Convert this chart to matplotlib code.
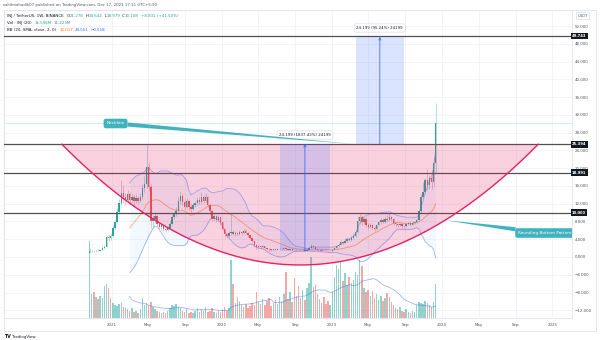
import numpy as np
import pandas as pd
import matplotlib
matplotlib.use("Agg")
import matplotlib.pyplot as plt
import matplotlib.dates as mdates
import matplotlib.transforms as mtransforms
from matplotlib.patches import Rectangle

plt.rcParams['font.family'] = ['DejaVu Sans']

# ---- weekly INJ/USDT candles (Binance), weeks starting on Mondays ----
week_start = "2020-10-19"
first_open = 0.95
close = [
    1.25, 1.35, 1.30, 1.45, 1.40, 1.60, 2.10, 2.30, 4.60, 4.20,
    4.80, 6.60, 7.90, 10.20, 12.20, 14.50, 13.60, 12.90, 14.10, 12.80,
    13.40, 12.60, 13.30, 12.70, 13.60, 15.60, 16.50, 20.30, 15.80, 8.00,
    8.60, 9.30, 7.40, 6.80, 7.10, 6.40, 6.10, 6.60, 7.50, 8.90,
    9.60, 10.40, 12.60, 13.80, 12.40, 11.30, 12.50, 11.20, 10.80, 11.60,
    12.10, 12.90, 12.30, 13.40, 12.60, 13.50, 11.70, 10.30, 8.60, 9.20,
    8.40, 8.90, 7.80, 6.40, 5.10, 4.70, 5.30, 5.60, 5.20, 5.40,
    5.10, 5.60, 5.30, 5.80, 5.50, 4.90, 4.30, 3.60, 2.70, 2.30,
    2.50, 2.20, 2.40, 2.00, 1.85, 1.70, 1.55, 1.70, 1.65, 1.80,
    1.90, 1.75, 1.95, 1.70, 1.60, 1.70, 1.55, 1.50, 1.60, 1.55,
    1.50, 1.55, 1.45, 1.60, 2.10, 2.50, 2.20, 1.70, 1.55, 1.60,
    1.45, 1.40, 1.30, 1.25, 1.30, 1.60, 2.00, 2.40, 2.80, 3.40,
    3.20, 3.70, 4.00, 3.80, 4.30, 4.70, 5.60, 8.20, 9.00, 7.80,
    8.60, 7.20, 6.80, 7.30, 6.60, 6.40, 7.20, 7.80, 8.40, 7.90,
    8.60, 8.30, 9.00, 8.50, 7.60, 7.40, 7.10, 7.40, 7.00, 6.90,
    7.40, 7.60, 7.30, 7.70, 7.90, 8.40, 10.40, 13.60, 14.70, 17.30,
    16.20, 17.90, 16.80, 21.277, 30.108,
]
high = [
    2.00, 1.55, 1.50, 1.60, 1.70, 1.75, 2.40, 2.70, 5.00, 5.20,
    5.30, 7.20, 8.40, 11.00, 13.00, 17.30, 16.20, 14.50, 15.00, 14.60,
    14.20, 13.90, 14.10, 13.80, 14.40, 16.50, 18.20, 25.20, 21.50, 16.50,
    9.30, 9.80, 9.40, 7.90, 7.70, 7.30, 6.80, 7.00, 8.00, 9.40,
    10.20, 11.20, 13.50, 14.70, 14.20, 13.00, 13.30, 12.80, 11.90, 12.10,
    12.70, 13.50, 13.60, 14.60, 13.90, 14.50, 13.80, 12.00, 10.60, 9.90,
    9.40, 9.50, 9.10, 7.90, 6.60, 5.40, 5.80, 9.90, 6.10, 5.90,
    5.70, 6.00, 5.90, 6.20, 6.40, 5.70, 5.00, 4.40, 3.70, 2.90,
    2.80, 2.60, 2.60, 2.50, 2.10, 2.00, 1.80, 1.85, 1.90, 2.00,
    2.20, 2.00, 2.25, 2.00, 1.80, 1.85, 1.80, 1.65, 1.75, 1.70,
    1.65, 1.70, 1.60, 1.75, 2.30, 2.90, 2.70, 2.30, 1.80, 1.75,
    1.70, 1.55, 1.45, 1.40, 1.40, 1.70, 2.20, 2.60, 3.10, 3.80,
    3.70, 4.20, 4.50, 4.30, 4.70, 5.30, 6.00, 9.20, 9.60, 9.40,
    9.10, 8.90, 7.60, 7.70, 7.50, 6.90, 7.50, 8.20, 8.80, 8.70,
    9.00, 9.50, 9.80, 9.30, 8.70, 7.90, 7.60, 7.70, 7.60, 7.30,
    7.60, 7.90, 7.80, 8.00, 8.20, 8.80, 10.90, 14.30, 16.80, 17.80,
    19.90, 18.40, 18.90, 22.50, 34.642,
]
low = [
    0.83, 1.10, 1.15, 1.20, 1.30, 1.35, 1.55, 1.90, 2.20, 3.70,
    3.90, 4.60, 6.20, 7.60, 9.60, 11.80, 12.20, 11.60, 12.20, 12.00,
    12.30, 11.80, 12.10, 11.90, 12.40, 13.00, 14.60, 15.50, 14.80, 6.50,
    6.80, 7.70, 7.00, 6.20, 6.30, 5.90, 5.60, 5.80, 6.40, 7.30,
    8.50, 9.20, 10.10, 12.00, 11.60, 10.80, 11.00, 10.60, 10.20, 10.50,
    11.20, 11.80, 11.90, 12.10, 12.10, 12.40, 11.20, 9.60, 8.00, 8.20,
    7.90, 8.10, 7.20, 6.00, 4.60, 4.30, 4.50, 5.00, 4.90, 4.80,
    4.70, 4.90, 5.00, 5.10, 5.20, 4.60, 4.00, 3.30, 2.20, 1.90,
    2.10, 1.90, 2.00, 1.80, 1.50, 1.40, 1.35, 1.40, 1.50, 1.55,
    1.70, 1.60, 1.70, 1.60, 1.50, 1.55, 1.45, 1.40, 1.45, 1.45,
    1.40, 1.45, 1.35, 1.40, 1.55, 2.00, 2.00, 1.60, 1.30, 1.40,
    1.35, 1.30, 1.20, 1.10, 1.15, 1.25, 1.55, 1.90, 2.30, 2.70,
    2.90, 3.10, 3.40, 3.50, 3.70, 4.10, 4.50, 5.50, 7.40, 7.30,
    7.50, 6.80, 6.30, 6.60, 6.20, 5.90, 6.30, 6.90, 7.50, 7.60,
    7.60, 7.90, 8.10, 8.10, 7.30, 7.00, 6.70, 6.90, 6.60, 6.50,
    6.80, 7.10, 7.00, 7.20, 7.40, 7.60, 8.30, 9.80, 13.20, 14.20,
    15.00, 15.30, 15.40, 16.10, 18.979,
]
# weekly volume, millions of INJ
volume_m = [
    72, 22, 24, 20, 18, 21, 19, 30, 32, 28,
    19, 14, 12, 11, 13, 14, 10, 9, 8, 7,
    9, 6, 7, 5, 8, 19, 12, 14, 11, 15,
    10, 8, 7, 6, 5, 6, 5, 7, 9, 12,
    11, 13, 10, 9, 7, 6, 8, 5, 6, 5,
    7, 9, 6, 8, 7, 10, 6, 7, 9, 6,
    5, 7, 6, 8, 10, 7, 9, 54, 32, 14,
    20, 16, 12, 10, 13, 9, 11, 14, 12, 24,
    15, 13, 18, 12, 16, 19, 11, 14, 17, 13,
    20, 16, 22, 43, 18, 24, 15, 37, 21, 30,
    19, 26, 17, 28, 33, 57, 29, 31, 22, 18,
    14, 20, 13, 16, 12, 24, 38, 50, 46, 52,
    35, 42, 31, 38, 33, 36, 43, 40, 54, 49,
    28, 24, 26, 21, 25, 19, 22, 17, 21, 16,
    19, 23, 20, 15, 12, 9, 8, 10, 7, 6,
    8, 6, 5, 7, 6, 12, 15, 14, 13, 16,
    14, 12, 10, 15, 31.596,
]

# ---- drawings ----
levels = [49.743, 25.394, 18.991, 10.000]
neckline = 25.394
arc_left = "2020-07-19"
arc_right = "2024-11-15"
arc_bottom = -1.8
# price ranges: start, end, from, to
ranges = [("2022-07-12", "2022-12-25", 1.317, 25.516),
          ("2023-03-21", "2023-08-27", 25.409, 49.608)]
neck_label_at = ("2021-01-13", 30.07)
neck_anchor = "2023-03-20"
round_label_at = ("2024-09-09", 5.4)
round_anchor = "2024-01-11"

price_ticks = list(range(-12, 53, 4))
time_ticks = ["2021-01-01", "2021-05-01", "2021-09-01", "2022-01-01", "2022-05-01",
              "2022-09-01", "2023-01-01", "2023-05-01", "2023-09-01", "2024-01-01",
              "2024-05-01", "2024-09-01", "2025-01-01"]
time_labels = ["2021", "May", "Sep", "2022", "May", "Sep", "2023", "May", "Sep",
               "2024", "May", "Sep", "2025"]

UP, DOWN = '#26a69a', '#ef5350'
TXT = '#131722'
AX_TXT = '#50535e'
CALLOUT = '#40b3be'
BLUE = '#2962ff'
ORANGE = '#ff6d00'
GRID = '#f0f3fa'

W, H = 600, 340
fig = plt.figure(figsize=(W / 100, H / 100), dpi=100)
fig.patch.set_facecolor('white')


def fx(p):
    return p / W


def fy(p):
    return 1 - p / H


rect = [fx(4), fy(318), (572 - 4) / W, (318 - 10) / H]
axv = fig.add_axes(rect, zorder=1)
ax = fig.add_axes(rect, zorder=2)
ax.patch.set_visible(False)

d2n = lambda s: mdates.date2num(pd.Timestamp(s))
dates = pd.date_range(week_start, periods=len(close), freq='7D')
x = mdates.date2num(dates)
c = np.array(close)
o = np.array([first_open] + close[:-1])
hi = np.array(high)
lo = np.array(low)
vol = np.array(volume_m)
col = np.where(c >= o, UP, DOWN)

xlim = (d2n("2020-01-09"), d2n("2025-03-07"))
ax.set_xlim(*xlim)
axv.set_xlim(*xlim)
ax.set_ylim(-13.74, 55.63)
axv.set_ylim(0, 288)
axv.axis('off')

# grid (drawn on the lower axes so it stays behind everything)
gtrans = mtransforms.blended_transform_factory(axv.transAxes, ax.transData)
for p in price_ticks:
    axv.plot([0, 1], [p, p], transform=gtrans, color=GRID, lw=0.6, zorder=0)
for t in time_ticks:
    axv.axvline(d2n(t), color=GRID, lw=0.6, zorder=0)

# volume + its 20-week average
axv.bar(x, vol, width=4.8, color=col, alpha=0.5, linewidth=0, zorder=1)
vol_ma = pd.Series(vol).rolling(20).mean()
axv.plot(x, vol_ma, color=BLUE, alpha=0.45, lw=0.6, zorder=2)

# Bollinger Bands (20, 2)
s = pd.Series(c)
bb_mid = s.rolling(20).mean()
bb_sd = s.rolling(20).std(ddof=0)
bb_up = bb_mid + 2 * bb_sd
bb_lo = bb_mid - 2 * bb_sd
ax.fill_between(x, bb_lo, bb_up, color='#2196f3', alpha=0.06, lw=0, zorder=1)
ax.plot(x, bb_up, color=BLUE, alpha=0.45, lw=0.6, zorder=2)
ax.plot(x, bb_lo, color=BLUE, alpha=0.45, lw=0.6, zorder=2)
ax.plot(x, bb_mid, color=ORANGE, alpha=0.55, lw=0.6, zorder=2)

# candles
ax.vlines(x, lo, hi, colors=col, linewidth=0.5, alpha=0.5, zorder=3)
ax.bar(x, np.maximum(np.abs(c - o), 0.06), bottom=np.minimum(o, c), width=4.6,
       color=col, linewidth=0, zorder=3.1)

# last price line
ax.axhline(c[-1], color=UP, lw=0.5, alpha=0.3, zorder=2)

# horizontal levels
for v in levels:
    ax.axhline(v, color='#505050', lw=0.9, zorder=4)

# rounding bottom arc (quadratic curve between the two rims)
t = np.linspace(0, 1, 240)
x0, x2 = d2n(arc_left), d2n(arc_right)
xm = (x0 + x2) / 2
y1 = 2 * arc_bottom - neckline
arc_x = (1 - t) ** 2 * x0 + 2 * (1 - t) * t * xm + t ** 2 * x2
arc_y = (1 - t) ** 2 * neckline + 2 * (1 - t) * t * y1 + t ** 2 * neckline
ax.fill(arc_x, arc_y, color='#e91e63', alpha=0.2, lw=0, zorder=5)
ax.plot(arc_x, arc_y, color='#e91e63', lw=1.0, zorder=5.2)

# price range measurements
for d0, d1, p0, p1 in ranges:
    a, b = d2n(d0), d2n(d1)
    ax.add_patch(Rectangle((a, p0), b - a, p1 - p0, facecolor=BLUE, alpha=0.17,
                           lw=0, zorder=6))
    xc = (a + b) / 2
    ax.annotate('', xy=(xc, p1), xytext=(xc, p0),
                arrowprops=dict(arrowstyle='->', color=BLUE, alpha=0.75, lw=0.7,
                                mutation_scale=4, shrinkA=0, shrinkB=0), zorder=7)
    diff = p1 - p0
    label = f"{diff:.3f} ({diff / p0 * 100:.2f}%) {round(diff * 1000)}"
    ax.annotate(label, xy=(xc, p1), xytext=(0, 6.3), textcoords='offset points',
                ha='center', va='center', fontsize=2.8, color=TXT,
                bbox=dict(boxstyle='round,pad=0.55,rounding_size=0.4', fc='white',
                          ec='#d1d4dc', lw=0.4), zorder=9)

# callouts
wedge = dict(arrowstyle='wedge,tail_width=0.3,shrink_factor=0.5',
             fc=CALLOUT, ec='none', mutation_scale=10, shrinkA=0, shrinkB=0)
ax.annotate("Neckline", xy=(d2n(neck_anchor), neckline),
            xytext=(d2n(neck_label_at[0]), neck_label_at[1]), textcoords='data',
            ha='center', va='center', fontsize=3.1, color='white',
            bbox=dict(boxstyle='round,pad=0.65,rounding_size=0.5', fc=CALLOUT, ec='none'),
            arrowprops=wedge, zorder=9)
ra = d2n(round_anchor)
ry = float(np.interp(ra, arc_x, arc_y))
ax.annotate("Rounding Bottom Pattern", xy=(ra, ry),
            xytext=(d2n(round_label_at[0]), round_label_at[1]), textcoords='data',
            ha='left', va='center', fontsize=3.1, color='white', clip_on=True,
            bbox=dict(boxstyle='round,pad=0.65,rounding_size=0.5', fc=CALLOUT, ec='none'),
            arrowprops=wedge, zorder=9)

# axes: price scale on the right, time scale at the bottom
ax.yaxis.tick_right()
ax.set_yticks(price_ticks)
ax.set_yticklabels([f"{p:.3f}".replace('-', '\u2212') for p in price_ticks])
ax.tick_params(axis='y', length=0, pad=2, labelsize=2.9, labelcolor=AX_TXT)
ax.set_xticks([d2n(tk) for tk in time_ticks])
ax.set_xticklabels(time_labels)
ax.tick_params(axis='x', length=0, pad=3.5, labelsize=2.9, labelcolor=AX_TXT)
for sp in ax.spines.values():
    sp.set_color('#e0e3eb')
    sp.set_linewidth(0.6)

# level tags on the price scale
ltrans = mtransforms.blended_transform_factory(ax.transAxes, ax.transData)
for v in levels:
    ax.text(1.0, v, f"{v:.3f}", transform=ltrans, ha='left', va='center',
            fontsize=2.7, color='white', fontweight='bold', clip_on=False,
            bbox=dict(boxstyle='square,pad=0.35', fc=TXT, ec='none'), zorder=10)

# outer frame, currency box, header and footer
fig.add_artist(Rectangle((fx(4), fy(331)), (596 - 4) / W, (331 - 10) / H,
                         transform=fig.transFigure, fill=False, ec='#e0e3eb', lw=0.6))
fig.text(fx(583), fy(16), "USDT", ha='center', va='center', fontsize=2.7, color=AX_TXT,
         bbox=dict(boxstyle='round,pad=0.4,rounding_size=0.3', fc='white',
                   ec='#d1d4dc', lw=0.4))
fig.text(fx(3), fy(5), "sahilmahadik07 published on TradingView.com, Dec 17, 2023 17:11 UTC+5:30",
         fontsize=2.8, color=AX_TXT, va='center', ha='left')


def legend_row(y_px, parts):
    prev = fig.text(fx(7), fy(y_px), parts[0][0], color=parts[0][1], fontsize=2.9,
                    va='center', ha='left')
    for txt, color, gap in parts[1:]:
        prev = ax.annotate(txt, xy=(1, 0.5), xycoords=prev, xytext=(gap, 0),
                           textcoords='offset points', va='center', ha='left',
                           color=color, fontsize=2.9, annotation_clip=False)


legend_row(16, [("INJ / TetherUS, 1W, BINANCE", TXT),
                ("O", TXT, 2.2), ("21.278", UP, 0),
                ("H", TXT, 1.4), ("34.642", UP, 0),
                ("L", TXT, 1.4), ("18.979", UP, 0),
                ("C", TXT, 1.4), ("30.108", UP, 0),
                ("+8.831 (+41.50%)", UP, 1.4)])
legend_row(23, [("Vol \u00b7 INJ (20)", TXT),
                ("31.596M", UP, 2.2), ("11.223M", '#2f8fb0', 1.4)])
legend_row(30, [("BB (20, SMA, close, 2, 0)", TXT),
                ("12.017", ORANGE, 2.2), ("24.551", BLUE, 1.4),
                ("\u22120.518", BLUE, 1.4)])

fig.text(fx(4), fy(337), "TV", fontsize=3.4, fontweight='bold', color=TXT,
         va='center', ha='left')
fig.text(fx(12), fy(337), "TradingView", fontsize=2.8, color=TXT, va='center', ha='left')

fig.savefig("out.png", dpi=100, facecolor='white')
